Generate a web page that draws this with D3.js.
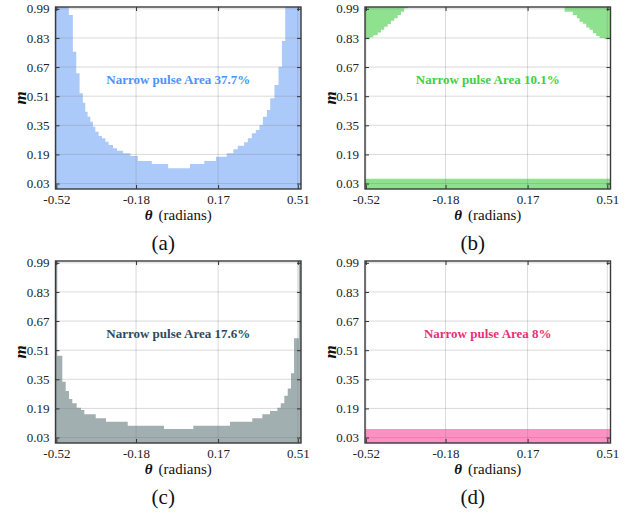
<!DOCTYPE html>
<html>
<head>
<meta charset="utf-8">
<script src="https://cdn.jsdelivr.net/npm/d3@7"></script>
<style>
  html, body { margin: 0; padding: 0; background: #fff; }
  svg { display: block; }
  svg text { font-family: "Liberation Serif", "Times New Roman", Times, "DejaVu Serif", serif; }
</style>
</head>
<body>
<svg id="chart" width="631" height="513"></svg>
<script>
// ---------- data ----------
const thetaTicks = [-0.52, -0.18, 0.17, 0.51];
const mTicks = [0.03, 0.19, 0.35, 0.51, 0.67, 0.83, 0.99];
const thetaDomain = [-0.5236, 0.5236];
const mDomain = [0, 1];

const panelLetters = ["(a)", "(b)", "(c)", "(d)"];
const areaTexts = ["Narrow pulse Area 37.7%", "Narrow pulse Area 10.1%", "Narrow pulse Area 17.6%", "Narrow pulse Area 8%"];

// (a) step boundary: bin edges and upper m value of each bin (filled from bottom)
const thetaA = [-0.5236,-0.4667,-0.4496,-0.4350,-0.4209,-0.4068,-0.3965,-0.3867,-0.3751,-0.3640,-0.3537,-0.3396,-0.3255,-0.3109,-0.2968,-0.2784,-0.2613,-0.2356,-0.2040,-0.1727,-0.1128,-0.0431,0.0498,0.1110,0.1610,0.2068,0.2351,0.2539,0.2809,0.2967,0.3138,0.3309,0.3463,0.3609,0.3780,0.3921,0.4105,0.4276,0.4422,0.4563,0.5236];
const mA = [1.0,0.956,0.754,0.636,0.526,0.474,0.425,0.397,0.370,0.342,0.315,0.291,0.279,0.260,0.242,0.224,0.210,0.196,0.181,0.154,0.137,0.114,0.137,0.154,0.177,0.196,0.218,0.238,0.257,0.279,0.306,0.324,0.352,0.397,0.434,0.498,0.571,0.672,0.813,1.0];

// (b) top corners: bin edges and lower m value (filled up to top), plus bottom strip
const thetaBL = [-0.5236,-0.5023,-0.4883,-0.4695,-0.4555,-0.4414,-0.4270,-0.4129,-0.3989,-0.3844,-0.3703,-0.3563,-0.3418];
const mLoBL = [0.823,0.834,0.845,0.860,0.875,0.892,0.907,0.925,0.938,0.956,0.974,0.993];
const thetaBR = [0.3278,0.3632,0.3802,0.3917,0.4057,0.4202,0.4342,0.4483,0.4628,0.4769,0.4981,0.5236];
const mLoBR = [0.974,0.956,0.938,0.919,0.908,0.888,0.875,0.856,0.841,0.830,0.823];
const bStripTop = 0.057;

// (c) step boundary
const thetaC = [-0.5236,-0.5159,-0.4946,-0.4801,-0.4660,-0.4519,-0.4332,-0.4148,-0.4007,-0.3521,-0.3082,-0.2156,-0.0607,0.0643,0.2209,0.3160,0.3587,0.3915,0.4227,0.4372,0.4525,0.4670,0.4811,0.4939,0.5140,0.5236];
const mC = [1.0,0.48,0.337,0.286,0.242,0.218,0.194,0.181,0.158,0.136,0.117,0.095,0.077,0.095,0.117,0.136,0.158,0.176,0.194,0.218,0.26,0.30,0.383,0.575,1.0];

// (d) bottom strip
const dStripTop = 0.077;

// ---------- styles ----------
const fills = ["#accaf9", "#8fe08f", "#a2afb1", "#ff90c4"];
const textColors = ["#4b93fb", "#3fd03f", "#2c4a5e", "#ea2f78"];

// ---------- layout ----------
const W = 245.5, H = 182;
const origins = [[55.5, 7], [365, 7], [55.5, 261], [365, 261]];

const svg = d3.select("#chart");
svg.append("rect").attr("width", 631).attr("height", 513).attr("fill", "#fff");

const x = d3.scaleLinear().domain(thetaDomain).range([0, W]);
const y = d3.scaleLinear().domain(mDomain).range([H, 0]);

function stepPoints(edges, vals) {
  const pts = vals.map((v, i) => ({ t: edges[i], v }));
  pts.push({ t: edges[edges.length - 1], v: vals[vals.length - 1] });
  return pts;
}

const areaFromBottom = d3.area()
  .x(d => x(d.t)).y0(y(mDomain[0])).y1(d => y(d.v))
  .curve(d3.curveStepAfter);
const areaToTop = d3.area()
  .x(d => x(d.t)).y0(d => y(d.v)).y1(y(mDomain[1]))
  .curve(d3.curveStepAfter);

const serif = '"Liberation Serif", "Times New Roman", Times, "DejaVu Serif", serif';

function drawPanel(i) {
  const [ox, oy] = origins[i];
  const g = svg.append("g").attr("transform", `translate(${ox},${oy})`);

  // fills
  if (i === 0) {
    g.append("path").attr("d", areaFromBottom(stepPoints(thetaA, mA))).attr("fill", fills[0]);
  } else if (i === 1) {
    g.append("path").attr("d", areaToTop(stepPoints(thetaBL, mLoBL))).attr("fill", fills[1]);
    g.append("path").attr("d", areaToTop(stepPoints(thetaBR, mLoBR))).attr("fill", fills[1]);
    g.append("path").attr("d", areaFromBottom(stepPoints(thetaDomain, [bStripTop]))).attr("fill", fills[1]);
  } else if (i === 2) {
    g.append("path").attr("d", areaFromBottom(stepPoints(thetaC, mC))).attr("fill", fills[2]);
  } else {
    g.append("path").attr("d", areaFromBottom(stepPoints(thetaDomain, [dStripTop]))).attr("fill", fills[3]);
  }

  // grid
  g.append("g").selectAll("line").data(mTicks).join("line")
    .attr("x1", 0).attr("x2", W).attr("y1", d => y(d)).attr("y2", d => y(d))
    .attr("stroke", "#7a7a7a").attr("stroke-opacity", 0.28).attr("stroke-width", 1);
  g.append("g").selectAll("line").data(thetaTicks).join("line")
    .attr("y1", 0).attr("y2", H).attr("x1", d => x(d)).attr("x2", d => x(d))
    .attr("stroke", "#7a7a7a").attr("stroke-opacity", 0.28).attr("stroke-width", 1);

  // axes
  const fmt = d => d.toFixed(2);
  const ax = [
    d3.axisLeft(y).tickValues(mTicks).tickFormat(fmt).tickSizeInner(-4).tickSizeOuter(0).tickPadding(6),
    d3.axisBottom(x).tickValues(thetaTicks).tickFormat(fmt).tickSizeInner(-4).tickSizeOuter(0).tickPadding(6),
    d3.axisRight(y).tickValues(mTicks).tickFormat("").tickSizeInner(-4).tickSizeOuter(0),
    d3.axisTop(x).tickValues(thetaTicks).tickFormat("").tickSizeInner(-4).tickSizeOuter(0)
  ];
  const pos = [[0, 0], [0, H], [W, 0], [0, 0]];
  ax.forEach((a, k) => {
    const ga = g.append("g").attr("transform", `translate(${pos[k][0]},${pos[k][1]})`).call(a);
    ga.attr("font-family", null);
    ga.select(".domain").remove();
    ga.selectAll(".tick line").attr("stroke", "#333").attr("stroke-width", 1);
    ga.selectAll(".tick text").style("font-family", serif).style("font-size", "13px").attr("fill", "#222");
  });

  // frame
  g.append("rect").attr("x", 0).attr("y", 0).attr("width", W).attr("height", H)
    .attr("fill", "none").attr("stroke", "#3a3a3a").attr("stroke-width", 1.4);

  // area annotation
  g.append("text")
    .attr("x", x(0)).attr("y", y(0.6))
    .attr("text-anchor", "middle").attr("dominant-baseline", "central")
    .style("font-family", serif).style("font-weight", "bold").style("font-size", "13px")
    .attr("fill", textColors[i])
    .text(areaTexts[i]);

  // x label
  const xl = g.append("text")
    .attr("x", W / 2).attr("y", H + 31)
    .attr("text-anchor", "middle")
    .style("font-family", serif).style("font-size", "15px").attr("fill", "#111");
  xl.append("tspan").style("font-weight", "bold").style("font-style", "italic").text("θ");
  xl.append("tspan").attr("dx", 6).text("(radians)");

  // y label
  g.append("text")
    .attr("transform", `translate(-35,${H / 2}) rotate(-90)`)
    .attr("text-anchor", "middle").attr("dominant-baseline", "central")
    .style("font-family", serif).style("font-size", "17px")
    .style("font-weight", "bold").style("font-style", "italic").attr("fill", "#111")
    .text("m");

  // panel letter
  g.append("text")
    .attr("x", W / 2 - 15).attr("y", H + 61)
    .attr("text-anchor", "middle")
    .style("font-family", serif).style("font-size", "21px").attr("fill", "#111")
    .text(panelLetters[i]);
}

[0, 1, 2, 3].forEach(drawPanel);
</script>
</body>
</html>
